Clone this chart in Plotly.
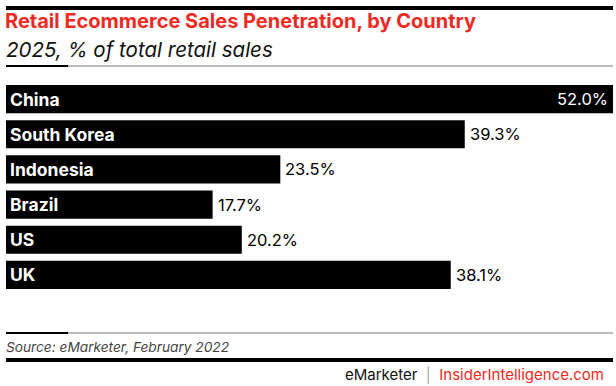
import plotly.graph_objects as go

countries = ["China", "South Korea", "Indonesia", "Brazil", "US", "UK"]
values = [52.0, 39.3, 23.5, 17.7, 20.2, 38.1]
value_labels = ["52.0%", "39.3%", "23.5%", "17.7%", "20.2%", "38.1%"]

FONT = "Inter, Roboto, sans-serif"
RED = "#ee2a24"
CLEAR = "rgba(255,255,255,0)"

W, H = 616, 386
# plot area in pixels
PL, PR, PT, PB = 6, 613, 81.5, 292.5


def px_x(x):
    return x / W


def px_y(y):
    return 1 - y / H


fig = go.Figure()
fig.add_trace(go.Bar(
    y=countries, x=values, orientation="h",
    marker=dict(color="#000000", line=dict(width=0)),
    hoverinfo="skip",
))

# category labels inside bars
for c, v in zip(countries, values):
    fig.add_annotation(x=0, y=c, xref="x", yref="y", text=f"<b>{c}</b>",
                       showarrow=False, xanchor="left", xshift=2, bgcolor=CLEAR,
                       font=dict(family=FONT, size=17.5, color="white"))

# value labels
for c, v, t in zip(countries, values, value_labels):
    if v == max(values):
        fig.add_annotation(x=v, y=c, xref="x", yref="y", text=t, showarrow=False,
                           xanchor="right", xshift=-3, bgcolor=CLEAR,
                           font=dict(family=FONT, size=16.5, color="white"))
    else:
        fig.add_annotation(x=v, y=c, xref="x", yref="y", text=t, showarrow=False,
                           xanchor="left", xshift=3, bgcolor=CLEAR,
                           font=dict(family=FONT, size=16.5, color="black"))

fig.add_annotation(text="<i>2025, % of total retail sales</i>", showarrow=False,
                   xref="paper", yref="paper", x=px_x(5), y=px_y(49),
                   xanchor="left", yanchor="middle", bgcolor=CLEAR, borderpad=0,
                   font=dict(family=FONT, size=20.5, color="#111111"))
fig.add_annotation(text="<i>Source: eMarketer, February 2022</i>", showarrow=False,
                   xref="paper", yref="paper", x=px_x(5), y=px_y(347),
                   xanchor="left", yanchor="middle", bgcolor=CLEAR, borderpad=0,
                   font=dict(family=FONT, size=13.7, color="#444444"))
fig.add_annotation(text=f"eMarketer  <span style='color:#aaaaaa'>|</span>  <span style='color:{RED}'>InsiderIntelligence.com</span>",
                   showarrow=False, xref="paper", yref="paper",
                   x=px_x(605), y=px_y(374), xanchor="right", yanchor="middle",
                   bgcolor=CLEAR, borderpad=0,
                   font=dict(family=FONT, size=15, color="#111111"))

shapes = []


def hbar(y0, y1, x0, x1, color):
    shapes.append(dict(type="rect", xref="paper", yref="paper",
                       x0=px_x(x0), x1=px_x(x1), y0=px_y(y0), y1=px_y(y1),
                       fillcolor=color, line=dict(width=0), layer="above"))


# thick top rule (two stacked strips)
hbar(6, 8, 6, 613, "#000000")
hbar(8, 10, 6, 613, "#000000")
# subtitle rule
hbar(65.5, 66.5, 6, 613, "#777777")
hbar(65, 67, 6, 68, "#000000")
# source rule
hbar(332.5, 333.5, 6, 613, "#777777")
hbar(332, 334, 6, 68, "#000000")
# thick bottom rule (two stacked strips)
hbar(358, 360, 6, 613, "#000000")
hbar(360, 362, 6, 613, "#000000")

fig.update_layout(
    template="none",
    width=W, height=H,
    margin=dict(l=0, r=0, t=0, b=0, pad=0),
    paper_bgcolor="white", plot_bgcolor="white",
    showlegend=False,
    bargap=0.2,
    shapes=shapes,
    title=dict(text="<b>Retail Ecommerce Sales Penetration, by Country</b>",
               x=px_x(5), xanchor="left", xref="paper",
               y=px_y(21), yanchor="middle", yref="container",
               font=dict(family=FONT, size=20, color=RED)),
    xaxis=dict(range=[0, 52], visible=False, fixedrange=True,
               domain=[PL / W, PR / W]),
    yaxis=dict(autorange="reversed", visible=False, fixedrange=True,
               domain=[1 - PB / H, 1 - PT / H]),
)

fig.write_html("out.html", config={"displayModeBar": False},
               post_script="document.body.style.margin='0';document.body.style.overflow='hidden';")
